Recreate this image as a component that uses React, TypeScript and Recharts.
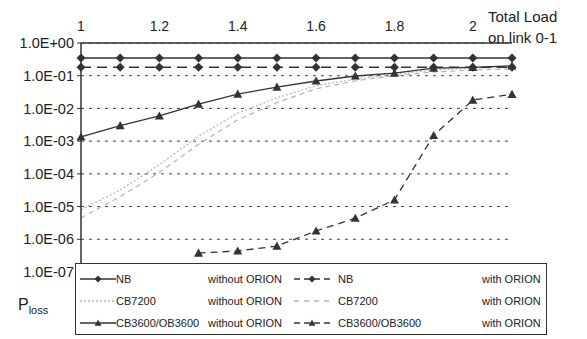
import React from "react";
import { LineChart, Line, XAxis, YAxis, CartesianGrid } from "recharts";

const loads = [1, 1.1, 1.2, 1.3, 1.4, 1.5, 1.6, 1.7, 1.8, 1.9, 2, 2.1];
const nbWithout = [0.35, 0.35, 0.35, 0.35, 0.35, 0.35, 0.35, 0.35, 0.35, 0.35, 0.35, 0.35];
const nbWith = [0.18, 0.18, 0.18, 0.18, 0.18, 0.18, 0.18, 0.18, 0.18, 0.18, 0.18, 0.18];
const cb7200Without = [8e-6, 3.2e-5, 1.9e-4, 1.4e-3, 7.2e-3, 0.021, 0.049, 0.079, 0.11, 0.15, 0.17, 0.18];
const cb7200With = [4.5e-6, 2e-5, 1.1e-4, 8e-4, 4.5e-3, 0.015, 0.04, 0.07, 0.1, 0.13, 0.15, 0.16];
const cb3600Without = [1.35e-3, 3e-3, 5.9e-3, 0.0136, 0.0275, 0.045, 0.069, 0.098, 0.12, 0.17, 0.18, 0.2];
const cb3600With = [null, null, null, 3.8e-7, 4.4e-7, 6.2e-7, 1.8e-6, 4.4e-6, 1.6e-5, 1.5e-3, 0.018, 0.027];

const xTicks = [1, 1.2, 1.4, 1.6, 1.8, 2];
const yTicks = [1, 1e-1, 1e-2, 1e-3, 1e-4, 1e-5, 1e-6, 1e-7];
const yLabels = ["1.0E+00", "1.0E-01", "1.0E-02", "1.0E-03", "1.0E-04", "1.0E-05", "1.0E-06", "1.0E-07"];

const data = loads.map((x, i) => ({
  x,
  nbWithout: nbWithout[i],
  nbWith: nbWith[i],
  cb7200Without: cb7200Without[i],
  cb7200With: cb7200With[i],
  cb3600Without: cb3600Without[i],
  cb3600With: cb3600With[i],
}));

const INK = "#333";
const LIGHT = "#b5b5b5";
const FONT = "'Liberation Sans', Arial, sans-serif";

const diamondPath = (cx: number, cy: number, r: number) =>
  `M${cx},${cy - r}L${cx + r},${cy}L${cx},${cy + r}L${cx - r},${cy}Z`;
const trianglePath = (cx: number, cy: number, r: number) =>
  `M${cx},${cy - r}L${cx + r},${cy + r * 0.8}L${cx - r},${cy + r * 0.8}Z`;

const Diamond = (p: any) =>
  p.cy == null || p.value == null ? (
    <g key={`d${p.index}`} />
  ) : (
    <path key={`d${p.index}`} d={diamondPath(p.cx, p.cy, 4.5)} fill={INK} />
  );

const Triangle = (p: any) =>
  p.cy == null || p.value == null ? (
    <g key={`t${p.index}`} />
  ) : (
    <path key={`t${p.index}`} d={trianglePath(p.cx, p.cy, 4.5)} fill={INK} />
  );

function Sample({ dash, color, marker }: { dash?: string; color: string; marker?: "d" | "t" }) {
  return (
    <svg width={36} height={12} style={{ display: "block" }}>
      <line x1={0} y1={6} x2={36} y2={6} stroke={color} strokeWidth={1.3} strokeDasharray={dash} />
      {marker === "d" && <path d={diamondPath(18, 6, 3.5)} fill={INK} />}
      {marker === "t" && <path d={trianglePath(18, 6, 3.5)} fill={INK} />}
    </svg>
  );
}

const legendRows = [
  { name: "NB", left: { color: INK, marker: "d" as const }, right: { color: INK, dash: "6 4", marker: "d" as const } },
  { name: "CB7200", left: { color: LIGHT, dash: "2 2" }, right: { color: LIGHT, dash: "5 5" } },
  { name: "CB3600/OB3600", left: { color: INK, marker: "t" as const }, right: { color: INK, dash: "6 4", marker: "t" as const } },
];

export default function App() {
  return (
    <div style={{ position: "fixed", left: 0, top: 0, width: 587, height: 339, background: "#fff", fontFamily: FONT }}>
      <LineChart width={587} height={339} data={data} margin={{ top: 0, right: 75, bottom: 67, left: 0 }}>
        <CartesianGrid horizontal vertical={false} stroke="#444" strokeDasharray="3 5" />
        <XAxis
          dataKey="x"
          type="number"
          orientation="top"
          domain={[1, 2.1]}
          ticks={xTicks}
          height={43}
          tickSize={0}
          tickMargin={12}
          axisLine={{ stroke: INK, strokeWidth: 1.5 }}
          tick={{ fill: "#222", fontSize: 14, fontFamily: FONT }}
        />
        <YAxis
          scale="log"
          domain={[1e-7, 1]}
          ticks={yTicks}
          allowDataOverflow
          width={81}
          tickSize={4}
          tickMargin={3}
          axisLine={{ stroke: INK, strokeWidth: 1.5 }}
          tickLine={{ stroke: INK }}
          tickFormatter={(v: number) => yLabels[Math.round(-Math.log10(v))]}
          tick={{ fill: "#222", fontSize: 14.5, fontFamily: FONT }}
        />
        <Line dataKey="cb7200With" stroke={LIGHT} strokeWidth={1.2} strokeDasharray="5 4" dot={false} isAnimationActive={false} />
        <Line dataKey="cb7200Without" stroke={LIGHT} strokeWidth={1.2} strokeDasharray="2 2" dot={false} isAnimationActive={false} />
        <Line dataKey="cb3600Without" stroke={INK} strokeWidth={1.3} dot={Triangle} isAnimationActive={false} />
        <Line dataKey="cb3600With" stroke={INK} strokeWidth={1.3} strokeDasharray="7 5" dot={Triangle} isAnimationActive={false} />
        <Line dataKey="nbWithout" stroke={INK} strokeWidth={1.5} dot={Diamond} isAnimationActive={false} />
        <Line dataKey="nbWith" stroke={INK} strokeWidth={1.5} strokeDasharray="10 6" dot={Diamond} isAnimationActive={false} />
      </LineChart>

      <div style={{ position: "absolute", left: 488, top: 6, fontSize: 15, lineHeight: "21px", color: "#222" }}>
        Total Load
        <br />
        on link 0-1
      </div>

      <div style={{ position: "absolute", left: 18, top: 296, fontSize: 16, color: "#222" }}>
        P<sub style={{ fontSize: 11 }}>loss</sub>
      </div>

      <div
        style={{
          position: "absolute",
          left: 75,
          top: 263,
          width: 470,
          height: 70,
          border: `1.5px solid ${INK}`,
          background: "#fff",
          fontSize: 11,
          color: "#222",
        }}
      >
        {legendRows.map((r, i) => (
          <div key={r.name} style={{ position: "absolute", top: 9 + i * 22, left: 0, width: "100%", height: 13, lineHeight: "13px" }}>
            <span style={{ position: "absolute", left: 4, top: 0 }}>
              <Sample {...r.left} />
            </span>
            <span style={{ position: "absolute", left: 40, top: 0 }}>{r.name}</span>
            <span style={{ position: "absolute", left: 132, top: 0 }}>without ORION</span>
            <span style={{ position: "absolute", left: 218, top: 0 }}>
              <Sample {...r.right} />
            </span>
            <span style={{ position: "absolute", left: 262, top: 0 }}>{r.name}</span>
            <span style={{ position: "absolute", left: 406, top: 0 }}>with ORION</span>
          </div>
        ))}
      </div>
    </div>
  );
}
